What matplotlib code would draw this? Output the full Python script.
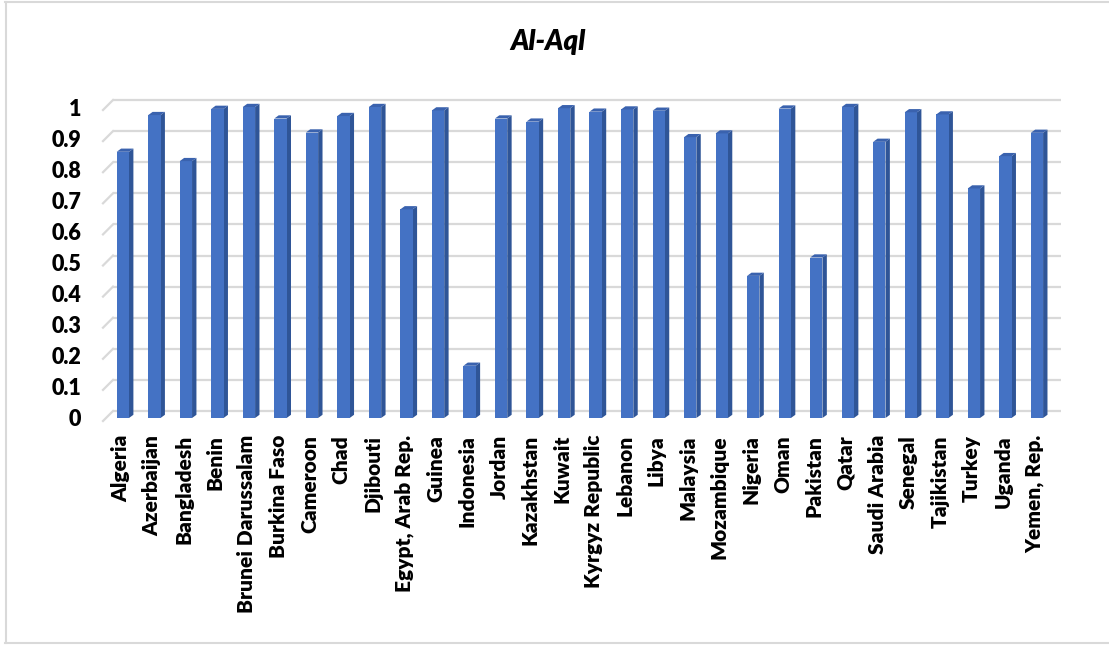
import numpy as np
import matplotlib
matplotlib.use("Agg")
import matplotlib.pyplot as plt
from matplotlib.patches import Polygon
from matplotlib.lines import Line2D

countries = ["Algeria", "Azerbaijan", "Bangladesh", "Benin", "Brunei Darussalam",
             "Burkina Faso", "Cameroon", "Chad", "Djibouti", "Egypt, Arab Rep.",
             "Guinea", "Indonesia", "Jordan", "Kazakhstan", "Kuwait",
             "Kyrgyz Republic", "Lebanon", "Libya", "Malaysia", "Mozambique",
             "Nigeria", "Oman", "Pakistan", "Qatar", "Saudi Arabia",
             "Senegal", "Tajikistan", "Turkey", "Uganda", "Yemen, Rep."]
values = [0.856, 0.974, 0.826, 0.994, 1.0,
          0.963, 0.918, 0.971, 1.0, 0.671,
          0.989, 0.168, 0.963, 0.953, 0.996,
          0.985, 0.992, 0.988, 0.903, 0.915,
          0.457, 0.995, 0.516, 1.0, 0.888,
          0.983, 0.976, 0.738, 0.842, 0.917]
yticks = [0, 0.1, 0.2, 0.3, 0.4, 0.5, 0.6, 0.7, 0.8, 0.9, 1]
title = "Al-Aql"

plt.rcParams['font.family'] = ['Lato', 'DejaVu Sans']

W, H = 1109, 645
fig = plt.figure(figsize=(W / 100, H / 100), dpi=100)
ax = fig.add_axes([0, 0, 1, 1])
ax.axis("off")

# pixel mapping: bar i centre at x0 + step*i, value v at y0 - sy*v (pixels from top)
x0, step = 122.85, 31.52
y0, sy = 418.0, 311.0
ax.set_xlim((0 - x0) / step, (W - x0) / step)
ax.set_ylim((y0 - H) / sy, y0 / sy)

def px(x):
    return (x - x0) / step

front_c, side_c, top_c = "#4472C4", "#2F5597", "#3A62AE"
grid_c = "#D9D9D9"

# back wall gridlines + floor diagonals
back_dy, front_dy = 7 / sy, -3 / sy
for t in yticks:
    ax.plot([px(113), px(1061)], [t + back_dy, t + back_dy], color=grid_c, lw=1.6, zorder=1,
            solid_capstyle="butt")
    ax.plot([px(103), px(113)], [t + front_dy, t + back_dy], color=grid_c, lw=1.6, zorder=1)
    ax.text(px(81), t - 2 / sy, f"{t:g}", ha="right", va="center",
            fontsize=15.5, fontweight="heavy", color="#000000")

# 3D-ish columns
n = len(values)
xs = np.arange(n)
bw = 12.3 / step
ddx, ddy = 4.4 / step, 3.2 / sy
ax.bar(xs, values, width=bw, color=front_c, zorder=3, linewidth=0)
for x, v in zip(xs, values):
    xr, xl = x + bw / 2, x - bw / 2
    ax.add_patch(Polygon([(xr, 0), (xr + ddx, ddy), (xr + ddx, v + ddy), (xr, v)],
                         closed=True, facecolor=side_c, edgecolor="none", zorder=2.9))
    ax.add_patch(Polygon([(xl, v), (xr, v), (xr + ddx, v + ddy), (xl + ddx, v + ddy)],
                         closed=True, facecolor=top_c, edgecolor="none", zorder=3.1))

# category labels
for x, name in zip(xs, countries):
    ax.text(x - 2.3 / step, (y0 - 435) / sy, name, rotation=90, ha="center", va="top",
            fontsize=15, fontweight="heavy", color="#000000")

fig.text(548 / W, 1 - 50 / H, title, ha="center", va="baseline",
         fontsize=20, fontweight="heavy", fontstyle="italic", color="#000000")

# chart area border (partially cropped in the original)
bc = "#D9D9D9"
fig.add_artist(Line2D([5 / W, 1], [1 - 2 / H, 1 - 2 / H], color=bc, lw=1.5))
fig.add_artist(Line2D([5.5 / W, 5.5 / W], [1 - 2 / H, 1 - 642.5 / H], color=bc, lw=1.5))
fig.add_artist(Line2D([5 / W, 1], [1 - 642.5 / H, 1 - 642.5 / H], color=bc, lw=1.5))

fig.savefig("out.png", dpi=100, facecolor="white")
